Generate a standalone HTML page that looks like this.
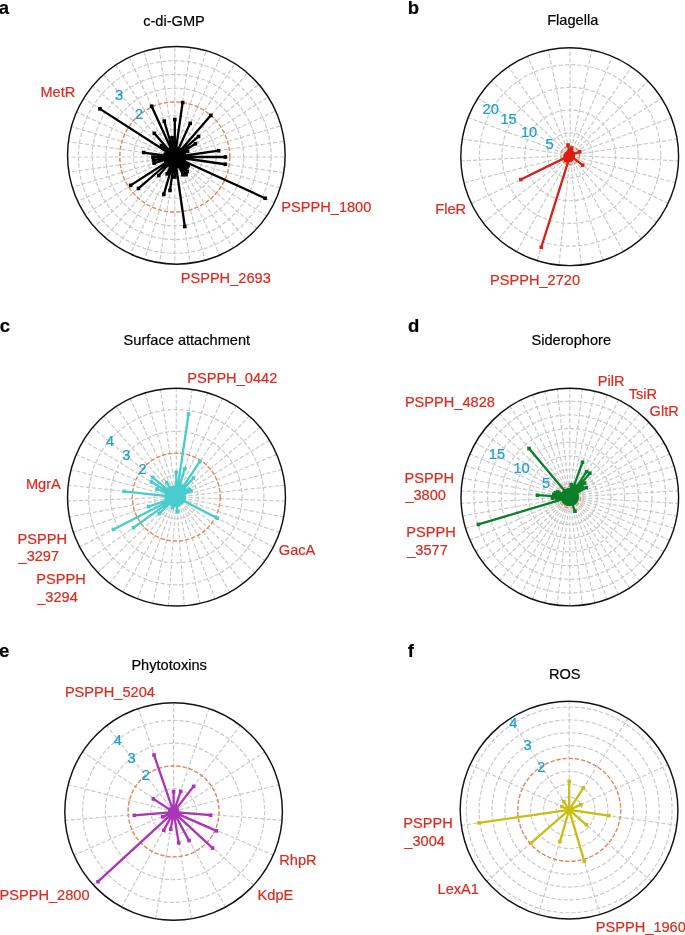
<!DOCTYPE html>
<html><head><meta charset="utf-8"><style>
html,body{margin:0;padding:0;background:#fff;overflow:hidden;width:685px;height:935px;}
svg{display:block;will-change:transform;}
text{font-family:"Liberation Sans",sans-serif;font-size:14.6px;stroke-width:0.2px;}
</style></head><body>
<svg width="685" height="935" viewBox="0 0 685 935">
<rect width="685" height="935" fill="#fff"/>
<g fill="none" stroke="#c9c9c9" stroke-width="1.15" stroke-dasharray="4.2 2"><circle cx="174.8" cy="157" r="13.76"/><circle cx="174.8" cy="157" r="27.52"/><circle cx="174.8" cy="157" r="41.28"/><circle cx="174.8" cy="157" r="55.04"/><circle cx="174.8" cy="157" r="68.8"/><circle cx="174.8" cy="157" r="82.56"/><circle cx="174.8" cy="157" r="96.32"/><line x1="174.8" y1="157" x2="174.8" y2="47.16"/><line x1="174.8" y1="157" x2="190.46" y2="48.07"/><line x1="174.8" y1="157" x2="205.85" y2="51.25"/><line x1="174.8" y1="157" x2="220.64" y2="56.63"/><line x1="174.8" y1="157" x2="234.5" y2="64.1"/><line x1="174.8" y1="157" x2="247.14" y2="73.52"/><line x1="174.8" y1="157" x2="258.27" y2="84.67"/><line x1="174.8" y1="157" x2="267.67" y2="97.32"/><line x1="174.8" y1="157" x2="275.13" y2="111.18"/><line x1="174.8" y1="157" x2="280.48" y2="125.97"/><line x1="174.8" y1="157" x2="283.64" y2="141.35"/><line x1="174.8" y1="157" x2="284.54" y2="157"/><line x1="174.8" y1="157" x2="283.17" y2="172.58"/><line x1="174.8" y1="157" x2="279.58" y2="187.77"/><line x1="174.8" y1="157" x2="273.86" y2="202.24"/><line x1="174.8" y1="157" x2="266.15" y2="215.71"/><line x1="174.8" y1="157" x2="256.62" y2="227.9"/><line x1="174.8" y1="157" x2="245.49" y2="238.58"/><line x1="174.8" y1="157" x2="232.99" y2="247.54"/><line x1="174.8" y1="157" x2="219.38" y2="254.62"/><line x1="174.8" y1="157" x2="204.96" y2="259.7"/><line x1="174.8" y1="157" x2="190" y2="262.69"/><line x1="174.8" y1="157" x2="174.8" y2="263.54"/><line x1="174.8" y1="157" x2="159.67" y2="262.26"/><line x1="174.8" y1="157" x2="144.89" y2="258.87"/><line x1="174.8" y1="157" x2="130.74" y2="253.47"/><line x1="174.8" y1="157" x2="117.51" y2="246.15"/><line x1="174.8" y1="157" x2="105.43" y2="237.06"/><line x1="174.8" y1="157" x2="94.73" y2="226.38"/><line x1="174.8" y1="157" x2="85.62" y2="214.31"/><line x1="174.8" y1="157" x2="78.29" y2="201.08"/><line x1="174.8" y1="157" x2="72.86" y2="186.93"/><line x1="174.8" y1="157" x2="69.46" y2="172.15"/><line x1="174.8" y1="157" x2="68.16" y2="157"/><line x1="174.8" y1="157" x2="69" y2="141.79"/><line x1="174.8" y1="157" x2="71.98" y2="126.81"/><line x1="174.8" y1="157" x2="77.06" y2="112.36"/><line x1="174.8" y1="157" x2="84.14" y2="98.74"/><line x1="174.8" y1="157" x2="93.11" y2="86.22"/><line x1="174.8" y1="157" x2="103.81" y2="75.07"/><line x1="174.8" y1="157" x2="116.02" y2="65.53"/><line x1="174.8" y1="157" x2="129.5" y2="57.82"/><line x1="174.8" y1="157" x2="144" y2="52.1"/><line x1="174.8" y1="157" x2="159.2" y2="48.52"/></g>
<circle cx="174.8" cy="157" r="55" fill="none" stroke="#f08556" stroke-width="1.3" stroke-dasharray="4.2 2"/>
<circle cx="176.35" cy="155.35" r="108.8" fill="none" stroke="#111" stroke-width="1.45"/>
<path d="M174.8 157L174.8 119.5M174.8 157L182.63 102.56M174.8 157L177.34 148.36M174.8 157L190.17 123.34M174.8 157L179.67 149.43M174.8 157L210.88 115.36M174.8 157L198.53 136.44M174.8 157L195.41 143.75M174.8 157L187.53 151.18M174.8 157L184.39 154.18M174.8 157L218.65 150.7M174.8 157L225.4 157M174.8 157L225.28 164.26M174.8 157L184.39 159.82M174.8 157L265.13 198.25M174.8 157L188.26 165.65M174.8 157L186.89 167.48M174.8 157L187.24 171.36M174.8 157L186.15 174.67M174.8 157L182.9 174.74M174.8 157L177.62 166.59M174.8 157L184.79 226.49M174.8 157L174.8 177M174.8 157L169.99 190.46M174.8 157L163.84 194.32M174.8 157L167.11 173.83M174.8 157L169.39 165.41M174.8 157L158.76 175.52M174.8 157L138.52 188.43M174.8 157L130.63 185.38M174.8 157L165.7 161.15M174.8 157L154.07 163.09M174.8 157L153.52 160.06M174.8 157L152.9 157M174.8 157L143.72 152.53M174.8 157L165.21 154.18M174.8 157L166.61 153.26M174.8 157L99.93 108.88M174.8 157L161.57 145.54M174.8 157L154.3 133.35M174.8 157L169.93 149.43M174.8 157L151.62 106.24M174.8 157L164.26 121.11M174.8 157L172.02 137.7" stroke="#000000" stroke-width="2.3" fill="none"/>
<g fill="#000000"><rect x="173" y="117.7" width="3.6" height="3.6"/><rect x="180.83" y="100.76" width="3.6" height="3.6"/><rect x="175.54" y="146.56" width="3.6" height="3.6"/><rect x="188.37" y="121.54" width="3.6" height="3.6"/><rect x="177.87" y="147.63" width="3.6" height="3.6"/><rect x="209.08" y="113.56" width="3.6" height="3.6"/><rect x="196.73" y="134.64" width="3.6" height="3.6"/><rect x="193.61" y="141.95" width="3.6" height="3.6"/><rect x="185.73" y="149.38" width="3.6" height="3.6"/><rect x="182.59" y="152.38" width="3.6" height="3.6"/><rect x="216.85" y="148.9" width="3.6" height="3.6"/><rect x="223.6" y="155.2" width="3.6" height="3.6"/><rect x="223.48" y="162.46" width="3.6" height="3.6"/><rect x="182.59" y="158.02" width="3.6" height="3.6"/><rect x="263.33" y="196.45" width="3.6" height="3.6"/><rect x="186.46" y="163.85" width="3.6" height="3.6"/><rect x="185.09" y="165.68" width="3.6" height="3.6"/><rect x="185.44" y="169.56" width="3.6" height="3.6"/><rect x="184.35" y="172.87" width="3.6" height="3.6"/><rect x="181.1" y="172.94" width="3.6" height="3.6"/><rect x="175.82" y="164.79" width="3.6" height="3.6"/><rect x="182.99" y="224.69" width="3.6" height="3.6"/><rect x="173" y="175.2" width="3.6" height="3.6"/><rect x="168.19" y="188.66" width="3.6" height="3.6"/><rect x="162.04" y="192.52" width="3.6" height="3.6"/><rect x="165.31" y="172.03" width="3.6" height="3.6"/><rect x="167.59" y="163.61" width="3.6" height="3.6"/><rect x="156.96" y="173.72" width="3.6" height="3.6"/><rect x="136.72" y="186.63" width="3.6" height="3.6"/><rect x="128.83" y="183.58" width="3.6" height="3.6"/><rect x="163.9" y="159.35" width="3.6" height="3.6"/><rect x="152.27" y="161.29" width="3.6" height="3.6"/><rect x="151.72" y="158.26" width="3.6" height="3.6"/><rect x="151.1" y="155.2" width="3.6" height="3.6"/><rect x="141.92" y="150.73" width="3.6" height="3.6"/><rect x="163.41" y="152.38" width="3.6" height="3.6"/><rect x="164.81" y="151.46" width="3.6" height="3.6"/><rect x="98.13" y="107.08" width="3.6" height="3.6"/><rect x="159.77" y="143.74" width="3.6" height="3.6"/><rect x="152.5" y="131.55" width="3.6" height="3.6"/><rect x="168.13" y="147.63" width="3.6" height="3.6"/><rect x="149.82" y="104.44" width="3.6" height="3.6"/><rect x="162.46" y="119.31" width="3.6" height="3.6"/><rect x="170.22" y="135.9" width="3.6" height="3.6"/></g>
<g fill="none" stroke="#c9c9c9" stroke-width="1.15" stroke-dasharray="4.2 2"><circle cx="570.1" cy="155.4" r="22.68"/><circle cx="570.1" cy="155.4" r="45.36"/><circle cx="570.1" cy="155.4" r="68.04"/><circle cx="570.1" cy="155.4" r="90.72"/><line x1="570.1" y1="155.4" x2="570.1" y2="48.4"/><line x1="570.1" y1="155.4" x2="591.63" y2="50.64"/><line x1="570.1" y1="155.4" x2="612.28" y2="57.12"/><line x1="570.1" y1="155.4" x2="631.23" y2="67.58"/><line x1="570.1" y1="155.4" x2="647.73" y2="81.6"/><line x1="570.1" y1="155.4" x2="661.13" y2="98.66"/><line x1="570.1" y1="155.4" x2="670.88" y2="118.08"/><line x1="570.1" y1="155.4" x2="676.56" y2="139.09"/><line x1="570.1" y1="155.4" x2="677.92" y2="160.87"/><line x1="570.1" y1="155.4" x2="674.88" y2="182.53"/><line x1="570.1" y1="155.4" x2="667.52" y2="203.19"/><line x1="570.1" y1="155.4" x2="656.11" y2="221.98"/><line x1="570.1" y1="155.4" x2="641.11" y2="238.12"/><line x1="570.1" y1="155.4" x2="623.11" y2="250.91"/><line x1="570.1" y1="155.4" x2="602.86" y2="259.8"/><line x1="570.1" y1="155.4" x2="581.18" y2="264.39"/><line x1="570.1" y1="155.4" x2="559.01" y2="264.47"/><line x1="570.1" y1="155.4" x2="537.27" y2="260.03"/><line x1="570.1" y1="155.4" x2="516.9" y2="251.25"/><line x1="570.1" y1="155.4" x2="498.75" y2="238.52"/><line x1="570.1" y1="155.4" x2="483.58" y2="222.37"/><line x1="570.1" y1="155.4" x2="472.04" y2="203.5"/><line x1="570.1" y1="155.4" x2="464.57" y2="182.72"/><line x1="570.1" y1="155.4" x2="461.48" y2="160.91"/><line x1="570.1" y1="155.4" x2="462.86" y2="138.97"/><line x1="570.1" y1="155.4" x2="468.62" y2="117.82"/><line x1="570.1" y1="155.4" x2="478.49" y2="98.3"/><line x1="570.1" y1="155.4" x2="492.05" y2="81.21"/><line x1="570.1" y1="155.4" x2="508.71" y2="67.2"/><line x1="570.1" y1="155.4" x2="527.8" y2="56.83"/><line x1="570.1" y1="155.4" x2="548.54" y2="50.49"/></g>
<circle cx="570.1" cy="155.4" r="9.3" fill="none" stroke="#f08556" stroke-width="1.3" stroke-dasharray="4.2 2"/>
<circle cx="569.7" cy="156.7" r="108.9" fill="none" stroke="#111" stroke-width="1.45"/>
<path d="M570.1 155.4L570.1 152.4M570.1 155.4L571.57 148.25M570.1 155.4L571.68 151.72M570.1 155.4L571.81 152.94M570.1 155.4L572.27 153.33M570.1 155.4L573.07 153.55M570.1 155.4L579.76 151.82M570.1 155.4L573.07 154.95M570.1 155.4L572.6 155.53M570.1 155.4L572.52 156.03M570.1 155.4L572.79 156.72M570.1 155.4L582.67 165.13M570.1 155.4L572.05 157.68M570.1 155.4L571.8 158.46M570.1 155.4L571.3 159.22M570.1 155.4L570.56 159.88M570.1 155.4L569.59 160.37M570.1 155.4L541.27 247.28M570.1 155.4L567.19 160.65M570.1 155.4L565.87 160.33M570.1 155.4L565.36 159.07M570.1 155.4L520.81 179.58M570.1 155.4L565.26 156.65M570.1 155.4L565.61 155.63M570.1 155.4L566.15 154.79M570.1 155.4L566.35 154.01M570.1 155.4L567.13 153.55M570.1 155.4L567.93 153.33M570.1 155.4L568.39 152.94M570.1 155.4L568.52 151.72M570.1 155.4L567.97 145.02" stroke="#dc1e14" stroke-width="2.3" fill="none"/>
<g fill="#dc1e14"><rect x="568.3" y="150.6" width="3.6" height="3.6"/><rect x="569.77" y="146.45" width="3.6" height="3.6"/><rect x="569.88" y="149.92" width="3.6" height="3.6"/><rect x="570.01" y="151.14" width="3.6" height="3.6"/><rect x="570.47" y="151.53" width="3.6" height="3.6"/><rect x="571.27" y="151.75" width="3.6" height="3.6"/><rect x="577.96" y="150.02" width="3.6" height="3.6"/><rect x="571.27" y="153.15" width="3.6" height="3.6"/><rect x="570.8" y="153.73" width="3.6" height="3.6"/><rect x="570.72" y="154.23" width="3.6" height="3.6"/><rect x="570.99" y="154.92" width="3.6" height="3.6"/><rect x="580.87" y="163.33" width="3.6" height="3.6"/><rect x="570.25" y="155.88" width="3.6" height="3.6"/><rect x="570" y="156.66" width="3.6" height="3.6"/><rect x="569.5" y="157.42" width="3.6" height="3.6"/><rect x="568.76" y="158.08" width="3.6" height="3.6"/><rect x="567.79" y="158.57" width="3.6" height="3.6"/><rect x="539.47" y="245.48" width="3.6" height="3.6"/><rect x="565.39" y="158.85" width="3.6" height="3.6"/><rect x="564.07" y="158.53" width="3.6" height="3.6"/><rect x="563.56" y="157.27" width="3.6" height="3.6"/><rect x="519.01" y="177.78" width="3.6" height="3.6"/><rect x="563.46" y="154.85" width="3.6" height="3.6"/><rect x="563.81" y="153.83" width="3.6" height="3.6"/><rect x="564.35" y="152.99" width="3.6" height="3.6"/><rect x="564.55" y="152.21" width="3.6" height="3.6"/><rect x="565.33" y="151.75" width="3.6" height="3.6"/><rect x="566.13" y="151.53" width="3.6" height="3.6"/><rect x="566.59" y="151.14" width="3.6" height="3.6"/><rect x="566.72" y="149.92" width="3.6" height="3.6"/><rect x="566.17" y="143.22" width="3.6" height="3.6"/></g>
<g fill="none" stroke="#c9c9c9" stroke-width="1.15" stroke-dasharray="4.2 2"><circle cx="176.3" cy="497.1" r="21.9"/><circle cx="176.3" cy="497.1" r="43.8"/><circle cx="176.3" cy="497.1" r="65.7"/><circle cx="176.3" cy="497.1" r="87.6"/><line x1="176.3" y1="497.1" x2="176.3" y2="388.75"/><line x1="176.3" y1="497.1" x2="192.08" y2="389.88"/><line x1="176.3" y1="497.1" x2="207.53" y2="393.29"/><line x1="176.3" y1="497.1" x2="222.33" y2="398.92"/><line x1="176.3" y1="497.1" x2="236.14" y2="406.64"/><line x1="176.3" y1="497.1" x2="248.69" y2="416.3"/><line x1="176.3" y1="497.1" x2="259.7" y2="427.69"/><line x1="176.3" y1="497.1" x2="268.93" y2="440.57"/><line x1="176.3" y1="497.1" x2="276.19" y2="454.65"/><line x1="176.3" y1="497.1" x2="281.31" y2="469.65"/><line x1="176.3" y1="497.1" x2="284.2" y2="485.23"/><line x1="176.3" y1="497.1" x2="284.78" y2="501.06"/><line x1="176.3" y1="497.1" x2="283.04" y2="516.82"/><line x1="176.3" y1="497.1" x2="279.03" y2="532.15"/><line x1="176.3" y1="497.1" x2="272.82" y2="546.72"/><line x1="176.3" y1="497.1" x2="264.55" y2="560.24"/><line x1="176.3" y1="497.1" x2="254.41" y2="572.4"/><line x1="176.3" y1="497.1" x2="242.6" y2="582.96"/><line x1="176.3" y1="497.1" x2="229.38" y2="591.67"/><line x1="176.3" y1="497.1" x2="215.03" y2="598.37"/><line x1="176.3" y1="497.1" x2="199.87" y2="602.9"/><line x1="176.3" y1="497.1" x2="184.21" y2="605.18"/><line x1="176.3" y1="497.1" x2="168.39" y2="605.15"/><line x1="176.3" y1="497.1" x2="152.75" y2="602.82"/><line x1="176.3" y1="497.1" x2="137.62" y2="598.23"/><line x1="176.3" y1="497.1" x2="123.32" y2="591.5"/><line x1="176.3" y1="497.1" x2="110.15" y2="582.76"/><line x1="176.3" y1="497.1" x2="98.4" y2="572.2"/><line x1="176.3" y1="497.1" x2="88.31" y2="560.05"/><line x1="176.3" y1="497.1" x2="80.1" y2="546.56"/><line x1="176.3" y1="497.1" x2="73.93" y2="532.02"/><line x1="176.3" y1="497.1" x2="69.95" y2="516.74"/><line x1="176.3" y1="497.1" x2="68.22" y2="501.05"/><line x1="176.3" y1="497.1" x2="68.8" y2="485.27"/><line x1="176.3" y1="497.1" x2="71.66" y2="469.74"/><line x1="176.3" y1="497.1" x2="76.75" y2="454.8"/><line x1="176.3" y1="497.1" x2="83.96" y2="440.75"/><line x1="176.3" y1="497.1" x2="93.14" y2="427.89"/><line x1="176.3" y1="497.1" x2="104.09" y2="416.5"/><line x1="176.3" y1="497.1" x2="116.58" y2="406.83"/><line x1="176.3" y1="497.1" x2="130.35" y2="399.07"/><line x1="176.3" y1="497.1" x2="145.1" y2="393.4"/><line x1="176.3" y1="497.1" x2="160.53" y2="389.93"/></g>
<circle cx="176.3" cy="497.1" r="44" fill="none" stroke="#f08556" stroke-width="1.3" stroke-dasharray="4.2 2"/>
<circle cx="176.5" cy="497.1" r="108.95" fill="none" stroke="#111" stroke-width="1.45"/>
<path d="M176.3 497.1L176.3 472.3M176.3 497.1L188.52 414.09M176.3 497.1L184.86 468.66M176.3 497.1L181.39 486.23M176.3 497.1L199.69 461.74M176.3 497.1L193.45 477.96M176.3 497.1L184.76 490.06M176.3 497.1L189.1 489.29M176.3 497.1L191.03 490.84M176.3 497.1L183.56 495.2M176.3 497.1L183.76 496.28M176.3 497.1L183.79 497.37M176.3 497.1L183.68 498.46M176.3 497.1L183.4 499.52M176.3 497.1L217.21 518.13M176.3 497.1L181.99 501.17M176.3 497.1L181.34 501.96M176.3 497.1L180.58 502.64M176.3 497.1L179.73 503.2M176.3 497.1L178.8 503.64M176.3 497.1L178.04 504.91M176.3 497.1L177.37 511.66M176.3 497.1L175.72 505.08M176.3 497.1L174.56 504.91M176.3 497.1L172.37 507.37M176.3 497.1L172.38 504.08M176.3 497.1L171.41 503.43M176.3 497.1L159.17 513.62M176.3 497.1L133.44 527.76M176.3 497.1L113.42 529.43M176.3 497.1L148.66 506.53M176.3 497.1L166.47 498.92M176.3 497.1L166.31 497.47M176.3 497.1L124.02 491.35M176.3 497.1L166.63 494.57M176.3 497.1L157.16 488.97M176.3 497.1L151.46 481.94M176.3 497.1L152.7 477.46M176.3 497.1L168.96 488.91M176.3 497.1L166.64 482.51M176.3 497.1L172.06 488.05M176.3 497.1L173.42 487.52M176.3 497.1L174.84 487.21" stroke="#48cccc" stroke-width="2.3" fill="none"/>
<g fill="#48cccc"><rect x="174.5" y="470.5" width="3.6" height="3.6"/><rect x="186.72" y="412.29" width="3.6" height="3.6"/><rect x="183.06" y="466.86" width="3.6" height="3.6"/><rect x="179.59" y="484.43" width="3.6" height="3.6"/><rect x="197.89" y="459.94" width="3.6" height="3.6"/><rect x="191.65" y="476.16" width="3.6" height="3.6"/><rect x="182.96" y="488.26" width="3.6" height="3.6"/><rect x="187.3" y="487.49" width="3.6" height="3.6"/><rect x="189.23" y="489.04" width="3.6" height="3.6"/><rect x="181.76" y="493.4" width="3.6" height="3.6"/><rect x="181.96" y="494.48" width="3.6" height="3.6"/><rect x="181.99" y="495.57" width="3.6" height="3.6"/><rect x="181.88" y="496.66" width="3.6" height="3.6"/><rect x="181.6" y="497.72" width="3.6" height="3.6"/><rect x="215.41" y="516.33" width="3.6" height="3.6"/><rect x="180.19" y="499.37" width="3.6" height="3.6"/><rect x="179.54" y="500.16" width="3.6" height="3.6"/><rect x="178.78" y="500.84" width="3.6" height="3.6"/><rect x="177.93" y="501.4" width="3.6" height="3.6"/><rect x="177" y="501.84" width="3.6" height="3.6"/><rect x="176.24" y="503.11" width="3.6" height="3.6"/><rect x="175.57" y="509.86" width="3.6" height="3.6"/><rect x="173.92" y="503.28" width="3.6" height="3.6"/><rect x="172.76" y="503.11" width="3.6" height="3.6"/><rect x="170.57" y="505.57" width="3.6" height="3.6"/><rect x="170.58" y="502.28" width="3.6" height="3.6"/><rect x="169.61" y="501.63" width="3.6" height="3.6"/><rect x="157.37" y="511.82" width="3.6" height="3.6"/><rect x="131.64" y="525.96" width="3.6" height="3.6"/><rect x="111.62" y="527.63" width="3.6" height="3.6"/><rect x="146.86" y="504.73" width="3.6" height="3.6"/><rect x="164.67" y="497.12" width="3.6" height="3.6"/><rect x="164.51" y="495.67" width="3.6" height="3.6"/><rect x="122.22" y="489.55" width="3.6" height="3.6"/><rect x="164.83" y="492.77" width="3.6" height="3.6"/><rect x="155.36" y="487.17" width="3.6" height="3.6"/><rect x="149.66" y="480.14" width="3.6" height="3.6"/><rect x="150.9" y="475.66" width="3.6" height="3.6"/><rect x="167.16" y="487.11" width="3.6" height="3.6"/><rect x="164.84" y="480.71" width="3.6" height="3.6"/><rect x="170.26" y="486.25" width="3.6" height="3.6"/><rect x="171.62" y="485.72" width="3.6" height="3.6"/><rect x="173.04" y="485.41" width="3.6" height="3.6"/></g>
<g fill="none" stroke="#c9c9c9" stroke-width="1.15" stroke-dasharray="4.2 2"><circle cx="569.8" cy="497.1" r="13.7"/><circle cx="569.8" cy="497.1" r="27.4"/><circle cx="569.8" cy="497.1" r="41.1"/><circle cx="569.8" cy="497.1" r="54.8"/><circle cx="569.8" cy="497.1" r="68.5"/><circle cx="569.8" cy="497.1" r="82.2"/><circle cx="569.8" cy="497.1" r="95.9"/><line x1="569.8" y1="497.1" x2="569.8" y2="388.85"/><line x1="569.8" y1="497.1" x2="582.37" y2="389.58"/><line x1="569.8" y1="497.1" x2="594.76" y2="391.77"/><line x1="569.8" y1="497.1" x2="606.82" y2="395.38"/><line x1="569.8" y1="497.1" x2="618.38" y2="400.37"/><line x1="569.8" y1="497.1" x2="629.28" y2="406.67"/><line x1="569.8" y1="497.1" x2="639.37" y2="414.18"/><line x1="569.8" y1="497.1" x2="648.53" y2="422.83"/><line x1="569.8" y1="497.1" x2="656.61" y2="432.47"/><line x1="569.8" y1="497.1" x2="663.53" y2="442.99"/><line x1="569.8" y1="497.1" x2="669.17" y2="454.24"/><line x1="569.8" y1="497.1" x2="673.47" y2="466.06"/><line x1="569.8" y1="497.1" x2="676.36" y2="478.31"/><line x1="569.8" y1="497.1" x2="677.82" y2="490.81"/><line x1="569.8" y1="497.1" x2="677.81" y2="503.39"/><line x1="569.8" y1="497.1" x2="676.35" y2="515.89"/><line x1="569.8" y1="497.1" x2="673.44" y2="528.13"/><line x1="569.8" y1="497.1" x2="669.13" y2="539.95"/><line x1="569.8" y1="497.1" x2="663.48" y2="551.19"/><line x1="569.8" y1="497.1" x2="656.57" y2="561.69"/><line x1="569.8" y1="497.1" x2="648.48" y2="571.33"/><line x1="569.8" y1="497.1" x2="639.32" y2="579.96"/><line x1="569.8" y1="497.1" x2="629.23" y2="587.46"/><line x1="569.8" y1="497.1" x2="618.34" y2="593.75"/><line x1="569.8" y1="497.1" x2="606.79" y2="598.73"/><line x1="569.8" y1="497.1" x2="594.74" y2="602.34"/><line x1="569.8" y1="497.1" x2="582.36" y2="604.52"/><line x1="569.8" y1="497.1" x2="569.8" y2="605.25"/><line x1="569.8" y1="497.1" x2="557.24" y2="604.52"/><line x1="569.8" y1="497.1" x2="544.86" y2="602.34"/><line x1="569.8" y1="497.1" x2="532.81" y2="598.73"/><line x1="569.8" y1="497.1" x2="521.26" y2="593.75"/><line x1="569.8" y1="497.1" x2="510.37" y2="587.46"/><line x1="569.8" y1="497.1" x2="500.28" y2="579.96"/><line x1="569.8" y1="497.1" x2="491.12" y2="571.33"/><line x1="569.8" y1="497.1" x2="483.03" y2="561.69"/><line x1="569.8" y1="497.1" x2="476.12" y2="551.19"/><line x1="569.8" y1="497.1" x2="470.47" y2="539.95"/><line x1="569.8" y1="497.1" x2="466.16" y2="528.13"/><line x1="569.8" y1="497.1" x2="463.25" y2="515.89"/><line x1="569.8" y1="497.1" x2="461.79" y2="503.39"/><line x1="569.8" y1="497.1" x2="461.78" y2="490.81"/><line x1="569.8" y1="497.1" x2="463.24" y2="478.31"/><line x1="569.8" y1="497.1" x2="466.13" y2="466.06"/><line x1="569.8" y1="497.1" x2="470.43" y2="454.24"/><line x1="569.8" y1="497.1" x2="476.07" y2="442.99"/><line x1="569.8" y1="497.1" x2="482.99" y2="432.47"/><line x1="569.8" y1="497.1" x2="491.07" y2="422.83"/><line x1="569.8" y1="497.1" x2="500.23" y2="414.18"/><line x1="569.8" y1="497.1" x2="510.32" y2="406.67"/><line x1="569.8" y1="497.1" x2="521.22" y2="400.37"/><line x1="569.8" y1="497.1" x2="532.78" y2="395.38"/><line x1="569.8" y1="497.1" x2="544.84" y2="391.77"/><line x1="569.8" y1="497.1" x2="557.23" y2="389.58"/></g>
<circle cx="569.8" cy="497.1" r="11" fill="none" stroke="#f08556" stroke-width="1.3" stroke-dasharray="4.2 2"/>
<circle cx="569.8" cy="497.05" r="108.8" fill="none" stroke="#111" stroke-width="1.45"/>
<path d="M569.8 497.1L569.8 490.1M569.8 497.1L571.25 484.68M569.8 497.1L571.88 488.34M569.8 497.1L582.49 462.24M569.8 497.1L575.19 486.38M569.8 497.1L586.56 471.62M569.8 497.1L589.85 473.2M569.8 497.1L584.71 483.03M569.8 497.1L582.63 487.55M569.8 497.1L586.25 487.6M569.8 497.1L576.23 494.33M569.8 497.1L576.51 495.09M569.8 497.1L576.69 495.88M569.8 497.1L576.79 496.69M569.8 497.1L576.79 497.51M569.8 497.1L576.69 498.32M569.8 497.1L576.51 499.11M569.8 497.1L576.23 499.87M569.8 497.1L575.86 500.6M569.8 497.1L575.41 501.28M569.8 497.1L574.89 501.9M569.8 497.1L574.3 502.46M569.8 497.1L573.65 502.95M569.8 497.1L572.94 503.36M569.8 497.1L574.93 511.2M569.8 497.1L571.41 503.91M569.8 497.1L570.61 504.05M569.8 497.1L569.8 504.1M569.8 497.1L568.99 504.05M569.8 497.1L568.19 503.91M569.8 497.1L567.41 503.68M569.8 497.1L566.66 503.36M569.8 497.1L565.95 502.95M569.8 497.1L565.3 502.46M569.8 497.1L564.71 501.9M569.8 497.1L564.19 501.28M569.8 497.1L563.74 500.6M569.8 497.1L563.37 499.87M569.8 497.1L478.41 524.46M569.8 497.1L557 499.36M569.8 497.1L552.53 498.11M569.8 497.1L537.45 495.22M569.8 497.1L553.85 494.29M569.8 497.1L555.43 492.8M569.8 497.1L557.86 491.95M569.8 497.1L563.74 493.6M569.8 497.1L564.19 492.92M569.8 497.1L564.71 492.3M569.8 497.1L529.05 448.53M569.8 497.1L565.95 491.25M569.8 497.1L566.66 490.84M569.8 497.1L567.41 490.52M569.8 497.1L568.19 490.29M569.8 497.1L568.99 490.15" stroke="#0b7f2a" stroke-width="2.3" fill="none"/>
<g fill="#0b7f2a"><rect x="568" y="488.3" width="3.6" height="3.6"/><rect x="569.45" y="482.88" width="3.6" height="3.6"/><rect x="570.08" y="486.54" width="3.6" height="3.6"/><rect x="580.69" y="460.44" width="3.6" height="3.6"/><rect x="573.39" y="484.58" width="3.6" height="3.6"/><rect x="584.76" y="469.82" width="3.6" height="3.6"/><rect x="588.05" y="471.4" width="3.6" height="3.6"/><rect x="582.91" y="481.23" width="3.6" height="3.6"/><rect x="580.83" y="485.75" width="3.6" height="3.6"/><rect x="584.45" y="485.8" width="3.6" height="3.6"/><rect x="574.43" y="492.53" width="3.6" height="3.6"/><rect x="574.71" y="493.29" width="3.6" height="3.6"/><rect x="574.89" y="494.08" width="3.6" height="3.6"/><rect x="574.99" y="494.89" width="3.6" height="3.6"/><rect x="574.99" y="495.71" width="3.6" height="3.6"/><rect x="574.89" y="496.52" width="3.6" height="3.6"/><rect x="574.71" y="497.31" width="3.6" height="3.6"/><rect x="574.43" y="498.07" width="3.6" height="3.6"/><rect x="574.06" y="498.8" width="3.6" height="3.6"/><rect x="573.61" y="499.48" width="3.6" height="3.6"/><rect x="573.09" y="500.1" width="3.6" height="3.6"/><rect x="572.5" y="500.66" width="3.6" height="3.6"/><rect x="571.85" y="501.15" width="3.6" height="3.6"/><rect x="571.14" y="501.56" width="3.6" height="3.6"/><rect x="573.13" y="509.4" width="3.6" height="3.6"/><rect x="569.61" y="502.11" width="3.6" height="3.6"/><rect x="568.81" y="502.25" width="3.6" height="3.6"/><rect x="568" y="502.3" width="3.6" height="3.6"/><rect x="567.19" y="502.25" width="3.6" height="3.6"/><rect x="566.39" y="502.11" width="3.6" height="3.6"/><rect x="565.61" y="501.88" width="3.6" height="3.6"/><rect x="564.86" y="501.56" width="3.6" height="3.6"/><rect x="564.15" y="501.15" width="3.6" height="3.6"/><rect x="563.5" y="500.66" width="3.6" height="3.6"/><rect x="562.91" y="500.1" width="3.6" height="3.6"/><rect x="562.39" y="499.48" width="3.6" height="3.6"/><rect x="561.94" y="498.8" width="3.6" height="3.6"/><rect x="561.57" y="498.07" width="3.6" height="3.6"/><rect x="476.61" y="522.66" width="3.6" height="3.6"/><rect x="555.2" y="497.56" width="3.6" height="3.6"/><rect x="550.73" y="496.31" width="3.6" height="3.6"/><rect x="535.65" y="493.42" width="3.6" height="3.6"/><rect x="552.05" y="492.49" width="3.6" height="3.6"/><rect x="553.63" y="491" width="3.6" height="3.6"/><rect x="556.06" y="490.15" width="3.6" height="3.6"/><rect x="561.94" y="491.8" width="3.6" height="3.6"/><rect x="562.39" y="491.12" width="3.6" height="3.6"/><rect x="562.91" y="490.5" width="3.6" height="3.6"/><rect x="527.25" y="446.73" width="3.6" height="3.6"/><rect x="564.15" y="489.45" width="3.6" height="3.6"/><rect x="564.86" y="489.04" width="3.6" height="3.6"/><rect x="565.61" y="488.72" width="3.6" height="3.6"/><rect x="566.39" y="488.49" width="3.6" height="3.6"/><rect x="567.19" y="488.35" width="3.6" height="3.6"/></g>
<g fill="none" stroke="#c9c9c9" stroke-width="1.15" stroke-dasharray="4.2 2"><circle cx="173.6" cy="811.4" r="22.75"/><circle cx="173.6" cy="811.4" r="45.5"/><circle cx="173.6" cy="811.4" r="68.25"/><circle cx="173.6" cy="811.4" r="91"/><line x1="173.6" y1="811.4" x2="173.6" y2="703.25"/><line x1="173.6" y1="811.4" x2="208.72" y2="709.11"/><line x1="173.6" y1="811.4" x2="240.03" y2="726.05"/><line x1="173.6" y1="811.4" x2="264.16" y2="752.24"/><line x1="173.6" y1="811.4" x2="278.48" y2="784.84"/><line x1="173.6" y1="811.4" x2="281.43" y2="820.34"/><line x1="173.6" y1="811.4" x2="272.71" y2="854.87"/><line x1="173.6" y1="811.4" x2="253.23" y2="884.7"/><line x1="173.6" y1="811.4" x2="225.12" y2="906.6"/><line x1="173.6" y1="811.4" x2="191.42" y2="918.17"/><line x1="173.6" y1="811.4" x2="155.78" y2="918.17"/><line x1="173.6" y1="811.4" x2="122.08" y2="906.6"/><line x1="173.6" y1="811.4" x2="93.97" y2="884.7"/><line x1="173.6" y1="811.4" x2="74.49" y2="854.87"/><line x1="173.6" y1="811.4" x2="65.77" y2="820.34"/><line x1="173.6" y1="811.4" x2="68.72" y2="784.84"/><line x1="173.6" y1="811.4" x2="83.04" y2="752.24"/><line x1="173.6" y1="811.4" x2="107.17" y2="726.05"/><line x1="173.6" y1="811.4" x2="138.48" y2="709.11"/></g>
<circle cx="173.6" cy="811.4" r="45.5" fill="none" stroke="#f08556" stroke-width="1.3" stroke-dasharray="4.2 2"/>
<circle cx="173.6" cy="811.45" r="108.8" fill="none" stroke="#111" stroke-width="1.45"/>
<path d="M173.6 812.1L173.6 791.6M173.6 812.1L180.68 791.48M173.6 812.1L193.62 786.37M173.6 812.1L176.95 809.91M173.6 812.1L177.48 811.12M173.6 812.1L210.57 815.16M173.6 812.1L216.46 830.9M173.6 812.1L212.67 848.06M173.6 812.1L189.02 840.59M173.6 812.1L178.75 842.97M173.6 812.1L170.75 829.16M173.6 812.1L163.8 830.22M173.6 812.1L97.97 881.72M173.6 812.1L162.7 816.88M173.6 812.1L134.33 815.35M173.6 812.1L169.72 811.12M173.6 812.1L153.34 798.86M173.6 812.1L171.14 808.94M173.6 812.1L153.99 754.97" stroke="#ac34b8" stroke-width="2.3" fill="none"/>
<g fill="#ac34b8"><rect x="171.8" y="789.8" width="3.6" height="3.6"/><rect x="178.88" y="789.68" width="3.6" height="3.6"/><rect x="191.82" y="784.57" width="3.6" height="3.6"/><rect x="175.15" y="808.11" width="3.6" height="3.6"/><rect x="175.68" y="809.32" width="3.6" height="3.6"/><rect x="208.77" y="813.36" width="3.6" height="3.6"/><rect x="214.66" y="829.1" width="3.6" height="3.6"/><rect x="210.87" y="846.26" width="3.6" height="3.6"/><rect x="187.22" y="838.79" width="3.6" height="3.6"/><rect x="176.95" y="841.17" width="3.6" height="3.6"/><rect x="168.95" y="827.36" width="3.6" height="3.6"/><rect x="162" y="828.42" width="3.6" height="3.6"/><rect x="96.17" y="879.92" width="3.6" height="3.6"/><rect x="160.9" y="815.08" width="3.6" height="3.6"/><rect x="132.53" y="813.55" width="3.6" height="3.6"/><rect x="167.92" y="809.32" width="3.6" height="3.6"/><rect x="151.54" y="797.06" width="3.6" height="3.6"/><rect x="169.34" y="807.14" width="3.6" height="3.6"/><rect x="152.19" y="753.17" width="3.6" height="3.6"/></g>
<g fill="none" stroke="#c9c9c9" stroke-width="1.15" stroke-dasharray="4.2 2"><circle cx="569.2" cy="809.9" r="12.86"/><circle cx="569.2" cy="809.9" r="25.72"/><circle cx="569.2" cy="809.9" r="38.58"/><circle cx="569.2" cy="809.9" r="51.44"/><circle cx="569.2" cy="809.9" r="64.3"/><circle cx="569.2" cy="809.9" r="77.16"/><circle cx="569.2" cy="809.9" r="90.02"/><circle cx="569.2" cy="809.9" r="102.88"/><line x1="569.2" y1="809.9" x2="569.2" y2="701.85"/><line x1="569.2" y1="809.9" x2="627.59" y2="719.04"/><line x1="569.2" y1="809.9" x2="667.47" y2="765.02"/><line x1="569.2" y1="809.9" x2="676.23" y2="825.29"/><line x1="569.2" y1="809.9" x2="651.02" y2="880.8"/><line x1="569.2" y1="809.9" x2="599.74" y2="913.91"/><line x1="569.2" y1="809.9" x2="538.64" y2="913.99"/><line x1="569.2" y1="809.9" x2="487.21" y2="880.95"/><line x1="569.2" y1="809.9" x2="461.88" y2="825.33"/><line x1="569.2" y1="809.9" x2="470.68" y2="764.91"/><line x1="569.2" y1="809.9" x2="510.72" y2="718.91"/></g>
<circle cx="569.2" cy="809.9" r="51.5" fill="none" stroke="#f08556" stroke-width="1.3" stroke-dasharray="4.2 2"/>
<circle cx="569.05" cy="810.1" r="108.85" fill="none" stroke="#111" stroke-width="1.45"/>
<path d="M569.2 809.9L569.2 781.3M569.2 809.9L583.36 787.86M569.2 809.9L580.75 804.62M569.2 809.9L608.89 815.61M569.2 809.9L586.43 824.83M569.2 809.9L584.33 861.42M569.2 809.9L559.87 841.66M569.2 809.9L530.81 843.17M569.2 809.9L479.03 822.86M569.2 809.9L561.83 806.54M569.2 809.9L563.85 801.57" stroke="#c8be14" stroke-width="2.3" fill="none"/>
<g fill="#c8be14"><rect x="567.4" y="779.5" width="3.6" height="3.6"/><rect x="581.56" y="786.06" width="3.6" height="3.6"/><rect x="578.95" y="802.82" width="3.6" height="3.6"/><rect x="607.09" y="813.81" width="3.6" height="3.6"/><rect x="584.63" y="823.03" width="3.6" height="3.6"/><rect x="582.53" y="859.62" width="3.6" height="3.6"/><rect x="558.07" y="839.86" width="3.6" height="3.6"/><rect x="529.01" y="841.37" width="3.6" height="3.6"/><rect x="477.23" y="821.06" width="3.6" height="3.6"/><rect x="560.03" y="804.74" width="3.6" height="3.6"/><rect x="562.05" y="799.77" width="3.6" height="3.6"/></g>
<g><text x="-1.34" y="13.7" fill="#000" stroke="#000" style="font-weight:bold;font-size:18.5px;stroke-width:0.2px">a</text>
<text x="143.18" y="25.8" fill="#000" stroke="#000">c-di-GMP</text>
<text x="40.4" y="96.6" fill="#dc2a1e" stroke="#dc2a1e">MetR</text>
<text x="115.04" y="99.9" fill="#18a0d4" stroke="#18a0d4">3</text>
<text x="135.07" y="119" fill="#18a0d4" stroke="#18a0d4">2</text>
<text x="281.3" y="211.7" fill="#dc2a1e" stroke="#dc2a1e">PSPPH_1800</text>
<text x="180.7" y="283.2" fill="#dc2a1e" stroke="#dc2a1e">PSPPH_2693</text>
<text x="407.78" y="14" fill="#000" stroke="#000" style="font-weight:bold;font-size:18.5px;stroke-width:0.2px">b</text>
<text x="547.2" y="24.6" fill="#000" stroke="#000">Flagella</text>
<text x="482.57" y="113.7" fill="#18a0d4" stroke="#18a0d4">20</text>
<text x="500.49" y="124.2" fill="#18a0d4" stroke="#18a0d4">15</text>
<text x="520.89" y="137" fill="#18a0d4" stroke="#18a0d4">10</text>
<text x="545.42" y="149.3" fill="#18a0d4" stroke="#18a0d4">5</text>
<text x="435.3" y="213.8" fill="#dc2a1e" stroke="#dc2a1e">FleR</text>
<text x="490" y="284.6" fill="#dc2a1e" stroke="#dc2a1e">PSPPH_2720</text>
<text x="-0.32" y="332.3" fill="#000" stroke="#000" style="font-weight:bold;font-size:18.5px;stroke-width:0.2px">c</text>
<text x="123.54" y="345" fill="#000" stroke="#000">Surface attachment</text>
<text x="187.2" y="383" fill="#dc2a1e" stroke="#dc2a1e">PSPPH_0442</text>
<text x="105.96" y="445.8" fill="#18a0d4" stroke="#18a0d4">4</text>
<text x="122.24" y="460" fill="#18a0d4" stroke="#18a0d4">3</text>
<text x="138.47" y="473.8" fill="#18a0d4" stroke="#18a0d4">2</text>
<text x="25.9" y="488.7" fill="#dc2a1e" stroke="#dc2a1e">MgrA</text>
<text x="17.6" y="543.9" fill="#dc2a1e" stroke="#dc2a1e">PSPPH</text>
<text x="18.52" y="561.4" fill="#dc2a1e" stroke="#dc2a1e">_3297</text>
<text x="36.3" y="584" fill="#dc2a1e" stroke="#dc2a1e">PSPPH</text>
<text x="37.22" y="601.5" fill="#dc2a1e" stroke="#dc2a1e">_3294</text>
<text x="278.87" y="555" fill="#dc2a1e" stroke="#dc2a1e">GacA</text>
<text x="408.04" y="331.9" fill="#000" stroke="#000" style="font-weight:bold;font-size:18.5px;stroke-width:0.2px">d</text>
<text x="531.54" y="344.5" fill="#000" stroke="#000">Siderophore</text>
<text x="597.8" y="385.8" fill="#dc2a1e" stroke="#dc2a1e">PilR</text>
<text x="628.77" y="398.7" fill="#dc2a1e" stroke="#dc2a1e">TsiR</text>
<text x="649.57" y="415.6" fill="#dc2a1e" stroke="#dc2a1e">GltR</text>
<text x="404.9" y="406.8" fill="#dc2a1e" stroke="#dc2a1e">PSPPH_4828</text>
<text x="488.79" y="459.2" fill="#18a0d4" stroke="#18a0d4">15</text>
<text x="513.39" y="472.7" fill="#18a0d4" stroke="#18a0d4">10</text>
<text x="541.92" y="488.4" fill="#18a0d4" stroke="#18a0d4">5</text>
<text x="404.6" y="482.7" fill="#dc2a1e" stroke="#dc2a1e">PSPPH</text>
<text x="405.32" y="500.3" fill="#dc2a1e" stroke="#dc2a1e">_3800</text>
<text x="406.3" y="536.9" fill="#dc2a1e" stroke="#dc2a1e">PSPPH</text>
<text x="407.22" y="554.9" fill="#dc2a1e" stroke="#dc2a1e">_3577</text>
<text x="-1.02" y="656.7" fill="#000" stroke="#000" style="font-weight:bold;font-size:18.5px;stroke-width:0.2px">e</text>
<text x="131.4" y="670.1" fill="#000" stroke="#000">Phytotoxins</text>
<text x="64.9" y="697.1" fill="#dc2a1e" stroke="#dc2a1e">PSPPH_5204</text>
<text x="113.66" y="744.5" fill="#18a0d4" stroke="#18a0d4">4</text>
<text x="127.44" y="762.5" fill="#18a0d4" stroke="#18a0d4">3</text>
<text x="141.77" y="780.4" fill="#18a0d4" stroke="#18a0d4">2</text>
<text x="279.3" y="864.7" fill="#dc2a1e" stroke="#dc2a1e">RhpR</text>
<text x="257.6" y="899.9" fill="#dc2a1e" stroke="#dc2a1e">KdpE</text>
<text x="-0.5" y="899.7" fill="#dc2a1e" stroke="#dc2a1e">PSPPH_2800</text>
<text x="407.68" y="656.8" fill="#000" stroke="#000" style="font-weight:bold;font-size:18.5px;stroke-width:0.2px">f</text>
<text x="548.9" y="679.3" fill="#000" stroke="#000">ROS</text>
<text x="509.26" y="728" fill="#18a0d4" stroke="#18a0d4">4</text>
<text x="523.54" y="750.1" fill="#18a0d4" stroke="#18a0d4">3</text>
<text x="537.37" y="771.7" fill="#18a0d4" stroke="#18a0d4">2</text>
<text x="403.3" y="827.8" fill="#dc2a1e" stroke="#dc2a1e">PSPPH</text>
<text x="404.32" y="845.5" fill="#dc2a1e" stroke="#dc2a1e">_3004</text>
<text x="437.6" y="893.5" fill="#dc2a1e" stroke="#dc2a1e">LexA1</text>
<text x="595.8" y="932.4" fill="#dc2a1e" stroke="#dc2a1e">PSPPH_1960</text></g>
</svg>
</body></html>
